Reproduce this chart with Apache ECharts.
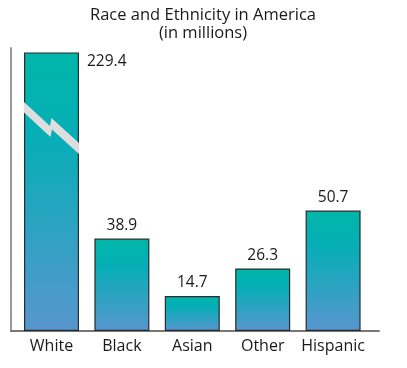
<!DOCTYPE html>
<html>
<head>
<meta charset="utf-8">
<script src="https://cdn.jsdelivr.net/npm/echarts@6/dist/echarts.min.js"></script>
<style>
html,body{margin:0;padding:0;background:#fff;}
#c{width:407px;height:368px;}
</style>
</head>
<body>
<div id="c"></div>
<script>
const titleText = 'Race and Ethnicity in America\n(in millions)';
const categories = ['White', 'Black', 'Asian', 'Other', 'Hispanic'];
const values = [229.4, 38.9, 14.7, 26.3, 50.7];
const brokenIndex = 0;      // bar drawn with an axis break
const axisMax = 117;        // visible value range of the (broken) axis

const FONT = 'Open Sans';
const TEXT = '#1a1a1a';
const chart = echarts.init(document.getElementById('c'), null, {renderer: 'canvas'});

const barColor = new echarts.graphic.LinearGradient(0, 0, 0, 1, [
  {offset: 0, color: '#00b6a9'},
  {offset: 0.3, color: '#06aeb6'},
  {offset: 1, color: '#5896cf'}
]);

const data = values.map((v, i) => {
  const d = {value: [i, v]};
  if (i === brokenIndex) {
    d.label = {position: [63, 1], align: 'left', verticalAlign: 'top'};
  }
  return d;
});

chart.setOption({
  animation: false,
  backgroundColor: '#ffffff',
  title: {
    text: titleText,
    left: 198, textAlign: 'center',
    top: 1,
    textStyle: {fontFamily: FONT, fontSize: 16.5, fontWeight: 'normal', color: TEXT, lineHeight: 18}
  },
  grid: [
    {left: 11, right: 28, top: 53, bottom: 37},
    {left: 11, right: 28, top: 48, bottom: 37}
  ],
  xAxis: [
    {
      type: 'value', gridIndex: 0, min: -0.575, max: 4.652,
      splitLine: {show: false},
      axisLine: {show: true, lineStyle: {color: '#777', width: 2}},
      axisTick: {show: false},
      axisLabel: {
        customValues: categories.map((c, i) => i),
        formatter: v => categories[Math.round(v)],
        fontFamily: FONT, fontSize: 16, color: TEXT, margin: 7
      }
    },
    {type: 'value', gridIndex: 1, show: false}
  ],
  yAxis: [
    {
      type: 'value', gridIndex: 0, min: 0, max: axisMax,
      axisLine: {show: false}, axisTick: {show: false},
      axisLabel: {show: false}, splitLine: {show: false}
    },
    {
      type: 'value', gridIndex: 1, min: 0, max: 1,
      axisLine: {show: true, lineStyle: {color: '#999', width: 2}},
      axisTick: {show: false}, axisLabel: {show: false}, splitLine: {show: false}
    }
  ],
  series: [{
    type: 'bar',
    xAxisIndex: 0, yAxisIndex: 0,
    barWidth: 55,
    clip: true,
    data: data,
    itemStyle: {color: barColor, borderColor: '#2b2b2b', borderWidth: 1.2},
    label: {
      show: true, position: 'top', distance: 5,
      fontFamily: FONT, fontSize: 15.5, color: TEXT,
      formatter: p => String(values[p.dataIndex])
    }
  }]
});

// axis-break zigzag across the truncated bar
const left = chart.convertToPixel({gridIndex: 0}, [brokenIndex, axisMax]);
const x0 = left[0] - 27.5, y0 = left[1];
chart.setOption({
  graphic: [{
    type: 'polygon',
    z: 100,
    shape: {points: [
      [x0, y0 + 49], [x0 + 26, y0 + 73], [x0 + 27.5, y0 + 65], [x0 + 55, y0 + 90],
      [x0 + 55, y0 + 101], [x0 + 28, y0 + 76.5], [x0 + 26.5, y0 + 84], [x0, y0 + 59.5]
    ]},
    style: {fill: '#dddedf'}
  }]
});
</script>
</body>
</html>
